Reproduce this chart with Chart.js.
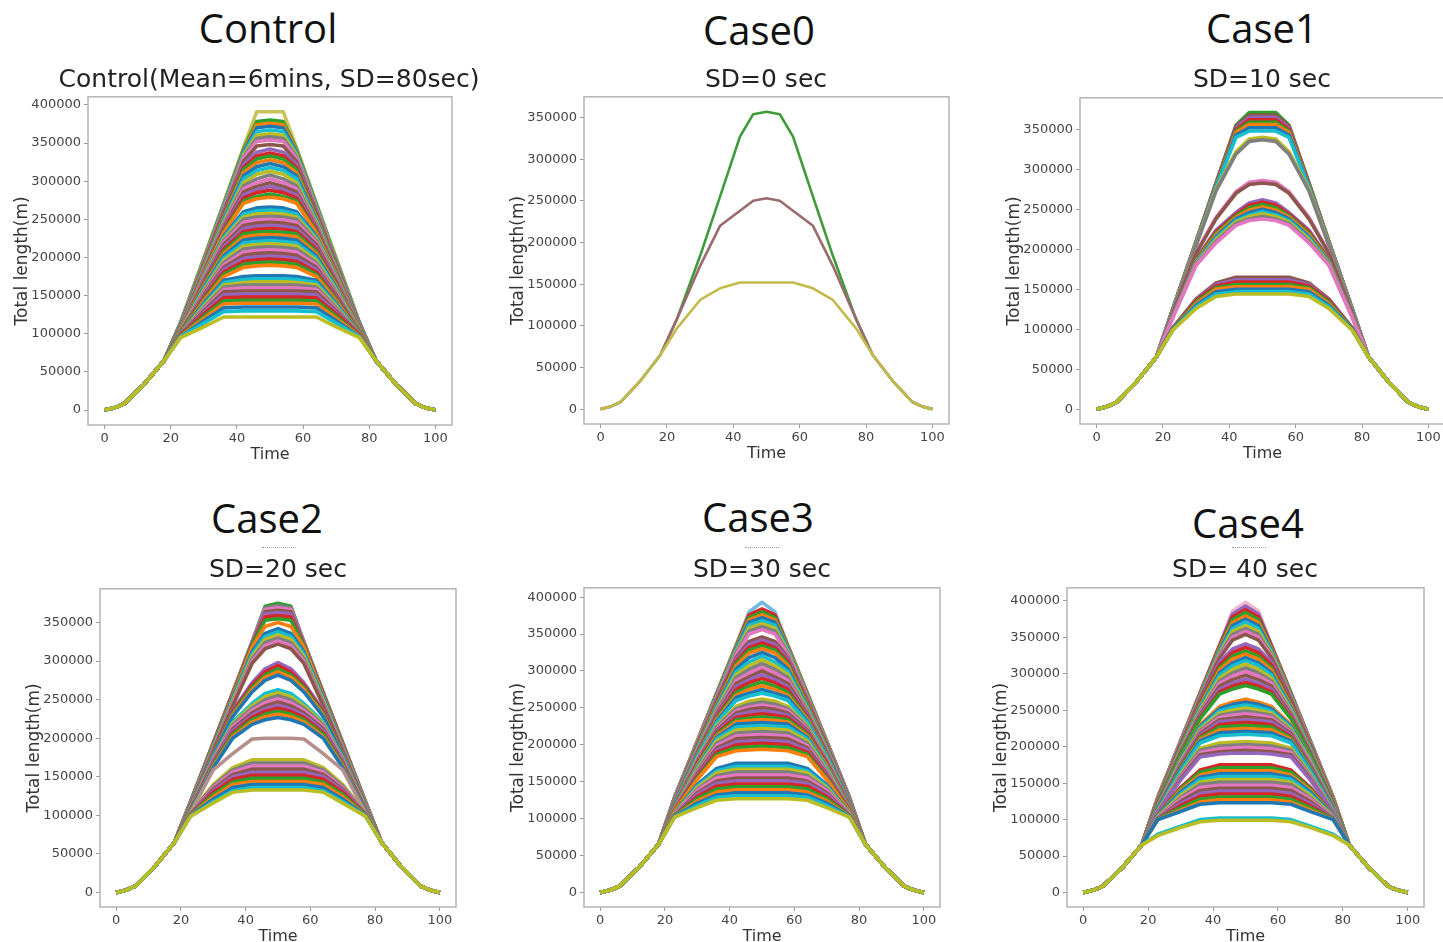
<!DOCTYPE html>
<html>
<head>
<meta charset="utf-8">
<script src="https://cdn.jsdelivr.net/npm/chart.js@4.4.1/dist/chart.umd.min.js"></script>
<style>
  body { margin: 0; width: 1443px; height: 942px; overflow: hidden; background: #fff; position: relative; }
  canvas { position: absolute; filter: blur(0.4px); }
  .title { position: absolute; width: 400px; text-align: center; font-family: "Open Sans", sans-serif; font-size: 40px; line-height: 40px; color: #111; white-space: nowrap; }
  .sub { position: absolute; width: 500px; text-align: center; font-family: "DejaVu Sans", sans-serif; font-size: 25px; line-height: 25px; color: #222; white-space: nowrap; }
  .dots { position: absolute; width: 34px; border-top: 1px dotted #999; }
</style>
</head>
<body>
<script>
// time steps shared by every run (left half mirrored around 50)
const timeSteps = [0, 3, 6, 12, 18, 23, 30, 36, 42, 46, 50, 54, 58, 64, 70, 77, 82, 88, 94, 97, 100];
// common start of every curve (m), at t = 0, 3, 6, 12, 18
const rampStart = [0, 3000, 8500, 34000, 65000];

const xTicks = [0, 20, 40, 60, 80, 100];
const yTicks350 = [0, 50000, 100000, 150000, 200000, 250000, 300000, 350000];
const yTicks400 = [0, 50000, 100000, 150000, 200000, 250000, 300000, 350000, 400000];

const panelTitles = ['Control', 'Case0', 'Case1', 'Case2', 'Case3', 'Case4'];
const panelSubtitles = ['Control(Mean=6mins, SD=80sec)', 'SD=0 sec', 'SD=10 sec', 'SD=20 sec', 'SD=30 sec', 'SD= 40 sec'];

// each run: total length (thousand m) at t = 23, 30, 36, 42, 46, 50
const controlLines = [
  [95,109,122,122,122,122], [96,114,129,130,130,130], [96,117,134,135,135,135], [97,120,139,140,140,140],
  [97,123,143,144,144,144], [98,126,147,148,148,148], [98,128,151,152,152,152], [99,130,155,156,156,156],
  [99,132,158,160,160,160], [100,134,161,164,164,164], [100,136,164,167,168,168], [100,138,167,171,172,172],
  [101,140,170,175,176,176],
  [101,143,175,187,189,190], [102,145,178,191,193,194], [102,147,181,195,197,198], [102,149,184,199,201,202],
  [103,151,187,203,205,206], [103,153,190,207,209,210], [103,155,193,211,213,214], [104,157,196,215,217,218],
  [104,159,199,219,221,222], [104,161,202,223,225,226], [105,163,205,227,229,230], [105,165,208,231,233,234],
  [105,167,211,234,237,238], [106,169,214,238,241,242], [106,170,217,242,245,246], [106,172,220,246,249,250],
  [107,173,222,250,253,254], [107,174,224,253,257,258], [107,175,226,257,261,262], [108,176,228,260,265,266],
  [108,178,232,271,277,279], [108,179,234,274,280,283], [109,180,236,278,285,288], [109,181,238,282,289,293],
  [109,182,240,286,293,298], [110,183,242,290,298,303], [110,184,244,294,303,308], [110,185,246,298,309,313],
  [111,186,248,303,314,318], [111,187,250,307,319,323], [111,188,252,311,324,328], [112,189,254,315,329,333],
  [112,190,256,318,333,337], [112,191,258,322,338,342],
  [112,192,260,326,346,348], [113,193,262,330,352,354], [113,194,264,332,356,358], [113,195,265,334,360,362],
  [114,196,267,336,365,367], [114,196,268,338,370,372], [114,197,269,340,374,376], [115,198,270,342,378,380],
  [115,199,271,344,391,391]
];

const case0Lines = [
  [97,131,145,152,152,152],
  [108,172,220,238,250,253],
  [108,184,255,327,354,357]
];

const case1Lines = [
  [99,126,141,144,144,144], [99,128,144,147,147,147], [100,130,147,150,150,150], [100,132,150,153,153,153],
  [101,134,152,156,156,156], [101,136,154,159,159,159], [102,137,156,162,162,162], [102,138,158,165,165,165],
  [115,180,208,230,236,238], [116,181,210,232,238,241], [116,182,212,234,241,244], [116,183,214,236,243,247],
  [117,184,216,238,246,250], [117,185,218,240,249,253], [117,186,220,242,252,256], [118,187,222,244,255,259],
  [118,188,224,246,258,262],
  [120,195,238,270,281,283], [120,196,240,272,284,286],
  [124,205,273,319,335,337], [124,206,275,322,338,340],
  [124,207,277,340,348,348], [125,207,278,343,352,352], [125,208,279,346,356,356], [125,208,280,348,359,359],
  [125,209,281,350,362,362], [126,209,282,352,365,365], [126,210,283,354,368,368], [126,210,283,355,371,371]
];

const case2Lines = [
  [99,116,130,133,133,133], [99,118,132,136,136,136], [100,121,136,140,140,140], [100,124,140,144,144,144],
  [101,127,143,148,148,148], [101,130,147,152,152,152], [102,132,150,156,156,156], [102,134,153,160,160,160],
  [103,136,156,164,164,164], [103,138,159,168,168,168], [104,140,162,172,172,172],
  [104,159,180,199,200,200],
  [106,162,200,218,224,227], [106,164,202,221,228,231], [107,166,205,224,231,235], [107,167,207,227,235,239],
  [108,169,210,230,238,243], [108,170,212,233,242,247], [109,172,215,236,246,251], [109,173,217,239,250,255],
  [110,174,219,242,254,259], [110,175,221,245,258,263],
  [111,178,228,260,275,282], [112,179,230,263,279,286], [112,180,232,266,282,290], [113,181,234,269,286,294],
  [113,182,236,272,290,298],
  [114,184,242,297,316,322], [115,185,244,300,320,326], [115,186,246,303,324,330], [115,187,248,306,328,334],
  [116,188,250,309,332,338], [116,189,252,312,336,342],
  [116,190,254,318,345,350], [117,191,255,320,353,355], [117,192,256,321,357,359], [117,192,257,322,361,363],
  [117,193,258,323,364,366], [118,193,258,324,367,369], [118,194,259,325,369,372], [118,194,259,325,371,375]
];

const case3Lines = [
  [102,115,125,127,127,127], [102,118,129,131,131,131], [103,121,132,135,135,135], [103,124,136,139,139,139],
  [104,127,140,143,143,143], [104,130,144,147,147,147], [105,133,148,151,151,151], [105,135,151,155,155,155],
  [106,138,155,159,159,159], [106,140,158,163,163,163], [107,142,162,167,167,167], [107,144,165,171,171,171],
  [108,146,168,175,175,175],
  [110,153,184,192,193,194], [110,155,187,196,197,198], [111,157,190,200,201,202], [111,159,193,204,205,206],
  [112,161,196,208,209,210], [112,163,199,212,213,214], [113,165,202,216,217,218], [113,167,205,220,221,222],
  [114,169,208,224,225,226], [114,170,210,228,229,230], [115,172,212,231,233,234], [115,173,214,234,236,238],
  [116,175,216,237,240,242], [116,176,218,240,244,246], [117,177,220,243,248,250], [117,179,222,246,251,254],
  [118,180,224,249,255,258], [118,181,226,252,259,262],
  [119,184,230,260,266,270], [120,185,232,264,270,275], [120,186,234,267,275,280], [121,187,236,271,279,285],
  [121,188,238,275,284,290], [122,189,240,279,288,295], [122,190,242,283,292,300], [123,191,244,287,297,305],
  [123,192,246,291,302,310], [124,193,248,295,307,315], [124,194,250,299,312,320], [125,195,252,303,318,325],
  [125,196,254,307,324,330], [125,197,256,310,328,334], [126,198,258,313,332,338], [126,199,260,316,336,342],
  [126,200,261,318,340,346],
  [127,201,263,322,350,356], [127,202,264,324,354,360], [127,202,265,326,358,364], [128,203,266,328,362,368],
  [128,203,267,330,366,372], [128,204,268,332,369,376], [128,204,269,333,372,380], [129,205,270,334,376,384],
  [129,205,270,335,380,393]
];

const case4Lines = [
  [78,89,97,99,99,99], [80,91,100,102,102,102],
  [100,111,121,123,123,123], [100,113,124,127,127,127], [101,116,128,131,131,131], [101,119,132,135,135,135],
  [102,122,136,139,139,139], [102,125,140,143,143,143], [103,128,144,147,147,147], [103,130,148,151,151,151],
  [104,133,151,155,155,155], [104,135,155,159,159,159], [105,138,158,163,163,163], [105,140,161,167,167,167],
  [106,142,165,171,171,171], [106,144,168,175,175,175],
  [110,154,186,190,191,191], [110,156,189,193,194,195], [111,158,192,197,198,199], [111,160,195,201,202,203],
  [112,162,198,205,206,207],
  [113,166,205,215,216,217], [114,168,208,219,220,221], [114,169,210,223,224,225], [115,171,212,227,228,229],
  [115,172,214,230,232,233], [116,174,216,234,236,237], [116,175,218,237,239,241], [117,177,220,240,243,245],
  [117,178,222,243,246,249], [118,180,224,246,250,253], [118,181,226,249,254,257], [119,183,228,252,258,261],
  [119,184,230,255,261,265],
  [121,189,238,272,279,284], [122,190,240,275,283,288], [122,191,242,279,287,293], [123,192,244,283,292,298],
  [123,193,246,287,297,303], [124,194,248,290,301,308], [124,195,250,294,306,313], [125,196,252,298,311,318],
  [125,197,254,301,315,322], [126,198,256,305,320,327], [126,199,258,308,324,331], [127,200,260,312,329,336],
  [127,201,262,316,334,341],
  [128,203,265,322,346,354], [128,204,266,324,350,358], [128,204,267,326,354,362], [129,205,268,328,358,366],
  [129,205,269,330,362,371], [129,206,270,332,366,375], [130,206,271,334,370,379], [130,207,272,336,374,384],
  [130,207,273,338,378,388], [131,208,274,339,382,393], [131,208,274,340,386,398]
];

const palette = ['#1f77b4', '#ff7f0e', '#2ca02c', '#d62728', '#9467bd', '#8c564b', '#e377c2', '#7f7f7f', '#bcbd22', '#17becf'];
const case0Colors = ['#c2bb4c', '#9a6a6c', '#3f9a3a'];

// plot box of each panel in page pixels: left, top, right, bottom
const panels = [
  { lines: controlLines, yTicks: yTicks400, box: [88, 92, 452, 425], tx: 268, ty: 7.5, sy: 65.8, topColor: '#c9c25a' },
  { lines: case0Lines, yTicks: yTicks350, box: [584, 92, 949, 424], tx: 759, ty: 9.5, sy: 65.8, colors: case0Colors },
  { lines: case1Lines, yTicks: yTicks350, box: [1080, 93, 1445, 424], tx: 1262, ty: 7.5, sy: 65.8, topColor: '#2ca02c' },
  { lines: case2Lines, yTicks: yTicks350, box: [100, 584, 456, 907], tx: 267, ty: 497.5, sy: 555.8, dots: 262, recolor: { 11: '#b48f8c' }, topColor: '#2ca02c' },
  { lines: case3Lines, yTicks: yTicks400, box: [584, 583, 940, 907], tx: 758, ty: 496.5, sy: 555.8, dots: 745, topColor: '#74b9e0' },
  { lines: case4Lines, yTicks: yTicks400, box: [1067, 583, 1424, 907], tx: 1248, ty: 502.5, sy: 555.8, dots: 1232, topColor: '#f2b6cf' }
];
const subX = [269, 766, 1262, 278, 762, 1245];

function buildSeries(vals) {
  const left = rampStart.concat(vals.slice(0, 5).map(v => v * 1000));
  const ys = left.concat([vals[5] * 1000], left.slice().reverse());
  return timeSteps.map((t, i) => ({ x: t, y: ys[i] }));
}

function lineColor(p, i) {
  if (p.colors) return p.colors[i];
  if (p.topColor && i === p.lines.length - 1) return p.topColor;
  if (p.recolor && p.recolor[i]) return p.recolor[i];
  return palette[(i + 8) % 10];
}

const boxPlugin = {
  id: 'box',
  afterDatasetsDraw(chart) {
    const a = chart.chartArea, ctx = chart.ctx;
    ctx.save();
    ctx.strokeStyle = '#b4b4b4';
    ctx.lineWidth = 1.5;
    ctx.strokeRect(a.left, a.top, a.right - a.left, a.bottom - a.top);
    ctx.restore();
  }
};

const PAD_L = 95, PAD_T = 6, PAD_R = 6, PAD_B = 45;

panels.forEach((p, k) => {
  const [L, T, R, B] = p.box;
  const cv = document.createElement('canvas');
  const w = R - L + PAD_L + PAD_R, h = B - T + PAD_T + PAD_B;
  cv.width = w; cv.height = h;
  cv.style.left = (L - PAD_L) + 'px'; cv.style.top = (T - PAD_T) + 'px';
  cv.style.width = w + 'px'; cv.style.height = h + 'px';
  document.body.appendChild(cv);

  const t = document.createElement('div');
  t.className = 'title'; t.textContent = panelTitles[k];
  t.style.left = (p.tx - 200) + 'px'; t.style.top = p.ty + 'px';
  document.body.appendChild(t);
  const s = document.createElement('div');
  s.className = 'sub'; s.textContent = panelSubtitles[k];
  s.style.left = (subX[k] - 250) + 'px'; s.style.top = p.sy + 'px';
  document.body.appendChild(s);
  if (p.dots) {
    const d = document.createElement('div');
    d.className = 'dots'; d.style.left = p.dots + 'px'; d.style.top = '547px';
    document.body.appendChild(d);
  }

  const maxY = Math.max(...p.lines.map(v => v[5] * 1000));
  const datasets = p.lines.map((vals, i) => ({
    data: buildSeries(vals),
    borderColor: lineColor(p, i),
    borderWidth: p.colors ? 2.6 : 3.6,
    pointRadius: 0,
    borderJoinStyle: 'round',
    fill: false,
    tension: 0
  }));

  const tickFont = { family: 'DejaVu Sans', size: 13 };
  new Chart(cv.getContext('2d'), {
    type: 'line',
    data: { datasets },
    options: {
      responsive: false,
      animation: false,
      devicePixelRatio: 1,
      layout: { padding: { left: 0, top: PAD_T, right: PAD_R, bottom: 0 } },
      plugins: { legend: { display: false }, tooltip: { enabled: false } },
      scales: {
        x: {
          type: 'linear', min: -5, max: 105,
          afterBuildTicks: sc => { sc.ticks = xTicks.map(v => ({ value: v })); },
          afterFit: sc => { sc.height = PAD_B; },
          border: { display: false },
          grid: { drawOnChartArea: false, drawTicks: true, tickLength: 4, color: '#999' },
          ticks: { font: tickFont, color: '#444', padding: 2, maxRotation: 0, autoSkip: false },
          title: { display: true, text: 'Time', font: { family: 'DejaVu Sans', size: 16 }, color: '#333', padding: { top: 0, bottom: 6 } }
        },
        y: {
          type: 'linear', min: -0.05 * maxY, max: 1.05 * maxY,
          afterBuildTicks: sc => { sc.ticks = p.yTicks.map(v => ({ value: v })); },
          afterFit: sc => { sc.width = PAD_L; },
          border: { display: false },
          grid: { drawOnChartArea: false, drawTicks: true, tickLength: 4, color: '#999' },
          ticks: { font: tickFont, color: '#444', padding: 3, autoSkip: false, callback: v => String(v) },
          title: { display: true, text: 'Total length(m)', font: { family: 'DejaVu Sans', size: 17 }, color: '#333', padding: { top: 19, bottom: 0 } }
        }
      }
    },
    plugins: [boxPlugin]
  });
});
</script>
</body>
</html>
